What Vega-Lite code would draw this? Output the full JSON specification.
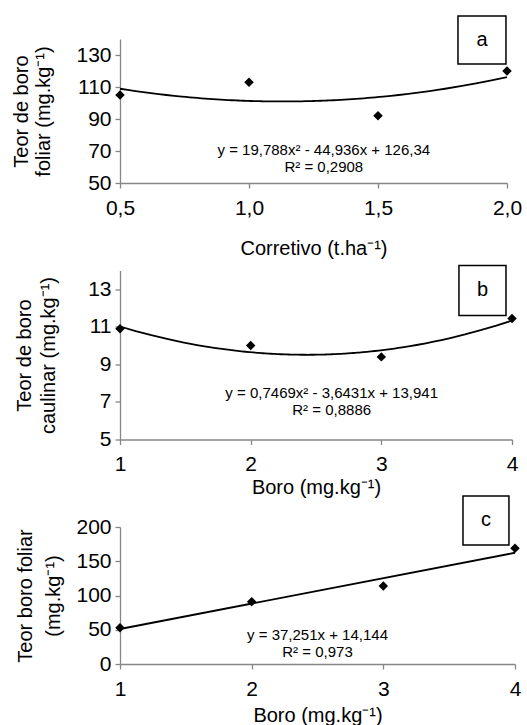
{
  "$schema": "https://vega.github.io/schema/vega-lite/v6.json",
  "padding": {"left": 11, "top": 15, "right": 5, "bottom": 5},
  "bounds": "flush",
  "spacing": 87.5,
  "config": {
    "view": {"stroke": null},
    "font": "Liberation Sans",
    "axis": {
      "domainColor": "#868686", "tickColor": "#868686", "tickSize": 5,
      "domainWidth": 1.3, "tickWidth": 1.3,
      "labelColor": "#000000", "titleColor": "#000000",
      "labelFont": "Liberation Sans", "titleFont": "Liberation Sans",
      "labelFontSize": 21, "titleFontSize": 20, "titleFontWeight": "normal",
      "grid": false, "labelFlush": false, "labelOverlap": false, "tickCount": 20
    },
    "text": {"font": "Liberation Sans", "color": "#000000"}
  },
  "datasets": {
    "a": [
      {"dose": 0.5, "teor": 105},
      {"dose": 1.0, "teor": 113},
      {"dose": 1.5, "teor": 92},
      {"dose": 2.0, "teor": 120}
    ],
    "b": [
      {"boro": 1, "teor": 10.9},
      {"boro": 2, "teor": 10.0},
      {"boro": 3, "teor": 9.4},
      {"boro": 4, "teor": 11.45}
    ],
    "c": [
      {"boro": 1, "teor": 53},
      {"boro": 2, "teor": 91},
      {"boro": 3, "teor": 114},
      {"boro": 4, "teor": 169}
    ]
  },
  "vconcat": [
    {
      "width": 387, "height": 144,
      "data": {"name": "a"},
      "layer": [
        {
          "transform": [{"regression": "teor", "on": "dose", "method": "poly", "order": 2}],
          "mark": {"type": "line", "color": "#000000", "strokeWidth": 1.8},
          "encoding": {
            "x": {"field": "dose", "type": "quantitative",
              "scale": {"domain": [0.5, 2], "nice": false, "zero": false},
              "axis": {"values": [0.5, 1, 1.5, 2], "tickCount": 20, "labelExpr": "replace(format(datum.value, '.1f'), '.', ',')",
                "title": "Corretivo (t.ha⁻¹)", "labelPadding": 9, "titlePadding": 20, "labelOverlap": false}},
            "y": {"field": "teor", "type": "quantitative",
              "scale": {"domain": [50, 140], "nice": false, "zero": false},
              "axis": {"values": [50, 70, 90, 110, 130], "tickCount": 20, "format": "d", "title": ["Teor de boro", "foliar (mg.kg⁻¹)"],
                "titleLineHeight": 22, "titlePadding": 22, "labelPadding": 4, "labelOverlap": false}}
          }
        },
        {
          "mark": {"type": "point", "shape": "diamond", "filled": true, "color": "#000000", "size": 90, "opacity": 1},
          "encoding": {
            "x": {"field": "dose", "type": "quantitative"},
            "y": {"field": "teor", "type": "quantitative"}
          }
        },
        {
          "data": {"values": [{"painel": "a"}]},
          "layer": [
            {
              "mark": {"type": "rect", "fill": "#ffffff", "stroke": "#000000", "strokeWidth": 1.5},
              "encoding": {"x": {"datum": 1.81}, "x2": {"datum": 1.996}, "y": {"datum": 154.4}, "y2": {"datum": 124.4}}
            },
            {
              "mark": {"type": "text", "fontSize": 20, "align": "center", "baseline": "middle"},
              "encoding": {"x": {"datum": 1.903}, "y": {"datum": 139.4}, "text": {"field": "painel"}}
            },
            {
              "mark": {"type": "text", "fontSize": 15, "align": "center", "baseline": "middle", "text": "y = 19,788x² - 44,936x + 126,34"},
              "encoding": {"x": {"datum": 1.29}, "y": {"datum": 70.6}}
            },
            {
              "mark": {"type": "text", "fontSize": 15, "align": "center", "baseline": "middle", "text": "R² = 0,2908"},
              "encoding": {"x": {"datum": 1.29}, "y": {"datum": 60}}
            }
          ]
        }
      ]
    },
    {
      "width": 392, "height": 169,
      "data": {"name": "b"},
      "layer": [
        {
          "transform": [{"regression": "teor", "on": "boro", "method": "poly", "order": 2}],
          "mark": {"type": "line", "color": "#000000", "strokeWidth": 1.8},
          "encoding": {
            "x": {"field": "boro", "type": "quantitative",
              "scale": {"domain": [1, 4], "nice": false, "zero": false},
              "axis": {"values": [1, 2, 3, 4], "tickCount": 20, "format": "d",
                "title": "Boro (mg.kg⁻¹)", "labelPadding": 9, "titlePadding": 3, "labelOverlap": false}},
            "y": {"field": "teor", "type": "quantitative",
              "scale": {"domain": [5, 14], "nice": false, "zero": false},
              "axis": {"values": [5, 7, 9, 11, 13], "tickCount": 20, "format": "d", "title": ["Teor de boro", "caulinar (mg.kg⁻¹)"],
                "titleLineHeight": 24, "titlePadding": 29, "labelPadding": 4, "labelOverlap": false}}
          }
        },
        {
          "mark": {"type": "point", "shape": "diamond", "filled": true, "color": "#000000", "size": 90, "opacity": 1},
          "encoding": {
            "x": {"field": "boro", "type": "quantitative"},
            "y": {"field": "teor", "type": "quantitative"}
          }
        },
        {
          "data": {"values": [{"painel": "b"}]},
          "layer": [
            {
              "mark": {"type": "rect", "fill": "#ffffff", "stroke": "#000000", "strokeWidth": 1.5},
              "encoding": {"x": {"datum": 3.594}, "x2": {"datum": 3.954}, "y": {"datum": 14.27}, "y2": {"datum": 11.6}}
            },
            {
              "mark": {"type": "text", "fontSize": 20, "align": "center", "baseline": "middle"},
              "encoding": {"x": {"datum": 3.774}, "y": {"datum": 12.94}, "text": {"field": "painel"}}
            },
            {
              "mark": {"type": "text", "fontSize": 15, "align": "center", "baseline": "middle", "text": "y = 0,7469x² - 3,6431x + 13,941"},
              "encoding": {"x": {"datum": 2.62}, "y": {"datum": 7.5}}
            },
            {
              "mark": {"type": "text", "fontSize": 15, "align": "center", "baseline": "middle", "text": "R² = 0,8886"},
              "encoding": {"x": {"datum": 2.62}, "y": {"datum": 6.56}}
            }
          ]
        }
      ]
    },
    {
      "width": 395, "height": 137,
      "data": {"name": "c"},
      "layer": [
        {
          "transform": [{"regression": "teor", "on": "boro", "method": "linear"}],
          "mark": {"type": "line", "color": "#000000", "strokeWidth": 1.8},
          "encoding": {
            "x": {"field": "boro", "type": "quantitative",
              "scale": {"domain": [1, 4], "nice": false, "zero": false},
              "axis": {"values": [1, 2, 3, 4], "tickCount": 20, "format": "d",
                "title": "Boro (mg.kg⁻¹)", "labelPadding": 9, "titlePadding": 6, "labelOverlap": false}},
            "y": {"field": "teor", "type": "quantitative",
              "scale": {"domain": [0, 200], "nice": false},
              "axis": {"values": [0, 50, 100, 150, 200], "tickCount": 20, "format": "d", "title": ["Teor boro foliar", "(mg.kg⁻¹)"],
                "titleLineHeight": 28, "titlePadding": 12, "labelPadding": 4, "labelOverlap": false}}
          }
        },
        {
          "mark": {"type": "point", "shape": "diamond", "filled": true, "color": "#000000", "size": 90, "opacity": 1},
          "encoding": {
            "x": {"field": "boro", "type": "quantitative"},
            "y": {"field": "teor", "type": "quantitative"}
          }
        },
        {
          "data": {"values": [{"painel": "c"}]},
          "layer": [
            {
              "mark": {"type": "rect", "fill": "#ffffff", "stroke": "#000000", "strokeWidth": 1.5},
              "encoding": {"x": {"datum": 3.605}, "x2": {"datum": 3.954}, "y": {"datum": 245.3}, "y2": {"datum": 173.7}}
            },
            {
              "mark": {"type": "text", "fontSize": 20, "align": "center", "baseline": "middle"},
              "encoding": {"x": {"datum": 3.78}, "y": {"datum": 209.5}, "text": {"field": "painel"}}
            },
            {
              "mark": {"type": "text", "fontSize": 15, "align": "center", "baseline": "middle", "text": "y = 37,251x + 14,144"},
              "encoding": {"x": {"datum": 2.5}, "y": {"datum": 42.3}}
            },
            {
              "mark": {"type": "text", "fontSize": 15, "align": "center", "baseline": "middle", "text": "R² = 0,973"},
              "encoding": {"x": {"datum": 2.5}, "y": {"datum": 17.5}}
            }
          ]
        }
      ]
    }
  ]
}
